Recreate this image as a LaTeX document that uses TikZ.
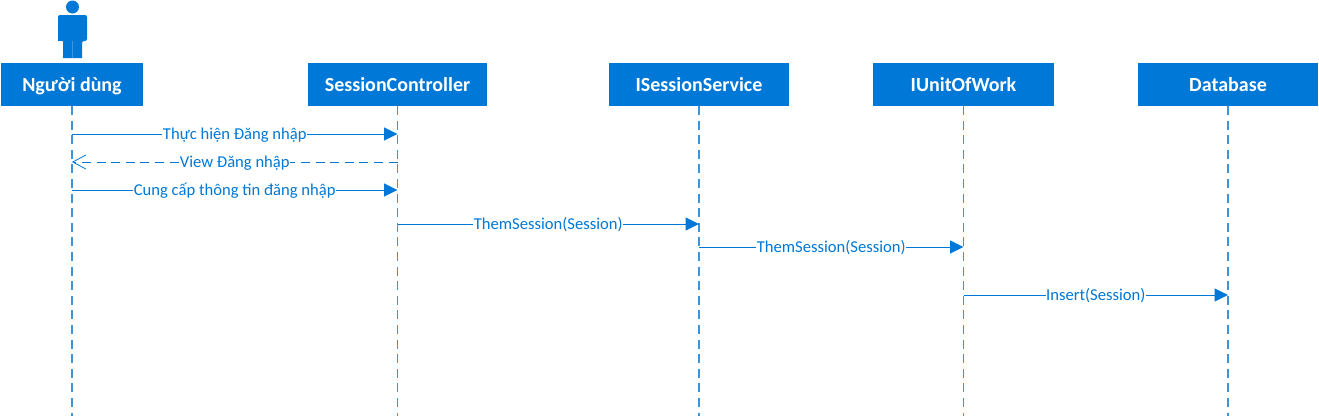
\documentclass[tikz,border=0pt]{standalone}
\usepackage{fontspec}
\setmainfont{Carlito}
\usetikzlibrary{arrows.meta,positioning}
\definecolor{Azure}{HTML}{0078D7}
\definecolor{AzureLine}{HTML}{3F94D8}
\tikzset{head/.style={rectangle,fill=Azure,text=white,outer sep=0pt,minimum height=43pt,text height=15pt,text depth=2pt,anchor=west,align=center,font=\fontsize{20}{22}\selectfont\bfseries},lifeline/.style={draw=AzureLine,line width=1.2pt,dash pattern=on 9pt off 5.6pt},msg/.style={-{Triangle[length=13.5pt,width=13pt,fill=Azure]},draw=Azure,line width=1pt},reply/.style={-{Straight Barb[length=13pt,width=14pt,line width=.8pt]},draw=Azure,line width=.8pt,dash pattern=on 9pt off 5.6pt},tag/.style={fill=white,inner xsep=.5pt,inner ysep=0pt,text height=12.5pt,text depth=1.5pt,text=Azure,font=\fontsize{16.6}{18}\selectfont}}

\begin{document}
\begin{tikzpicture}[x=1pt,y=-1pt]
      \useasboundingbox(0,0)rectangle(1319,416);
      \node[head,minimum width=142pt](user)at(1,84.5){Người dùng};
      \node[head,minimum width=179pt,right=165pt of user](ctrl){SessionController};
      \node[head,minimum width=180pt,right=122pt of ctrl](svc){ISessionService};
      \node[head,minimum width=181pt,right=84pt of svc](uow){IUnitOfWork};
      \node[head,minimum width=180pt,right=84pt of uow](db){Database};
      % actor
      \fill[Azure](72.5,7)circle(6.5pt);
      \fill[Azure,rounded corners=2pt](58,41)--(58,15)--(87,15)--(87,41)--(82,41)[sharp corners]--(82,58)--(63,58)--(63,41)--cycle;
      \draw[AzureLine,line width=.5pt](72.5,41)--(72.5,58);
      % lifelines
      \foreach \who in {user,ctrl,svc,uow,db}{
        \coordinate(\who end)at(\who.south |- 0,416);
        \draw[lifeline](\who.south)--(\who end);
      }
      % messages
      \coordinate(a1)at(user.south |- 0,134);\coordinate(b1)at(ctrl.south |- 0,134);
      \coordinate(a2)at(user.south |- 0,162);\coordinate(b2)at(ctrl.south |- 0,162);
      \coordinate(a3)at(user.south |- 0,190);\coordinate(b3)at(ctrl.south |- 0,190);
      \coordinate(a4)at(ctrl.south |- 0,224);\coordinate(b4)at(svc.south |- 0,224);
      \coordinate(a5)at(svc.south |- 0,247);\coordinate(b5)at(uow.south |- 0,247);
      \coordinate(a6)at(uow.south |- 0,295);\coordinate(b6)at(db.south |- 0,295);
      \draw[msg](a1)--node[tag]{Thực hiện Đăng nhập}(b1);
      \draw[reply](b2)--node[tag]{View Đăng nhập}(a2);
      \draw[msg](a3)--node[tag]{Cung cấp thông tin đăng nhập}(b3);
      \draw[msg](a4)--node[tag]{ThemSession(Session)}(b4);
      \draw[msg](a5)--node[tag]{ThemSession(Session)}(b5);
      \draw[msg](a6)--node[tag]{Insert(Session)}(b6);
    \end{tikzpicture}
\end{document}
